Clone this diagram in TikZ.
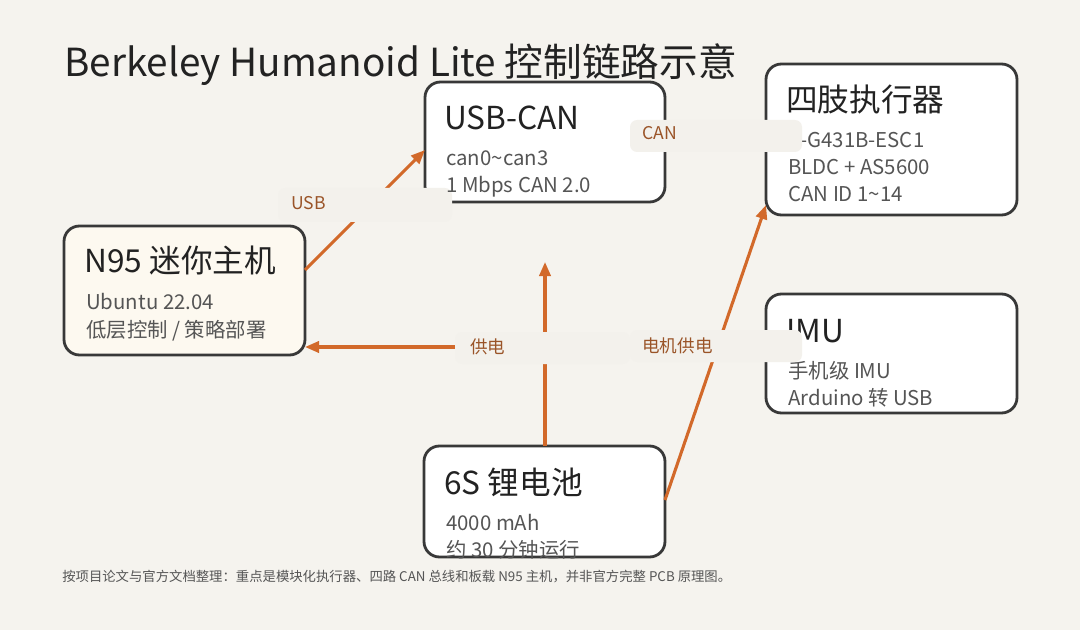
\documentclass[tikz,border=0pt]{standalone}
\usepackage{fontspec}
\setmainfont{Noto Sans CJK SC}
\usetikzlibrary{arrows.meta}
\definecolor{pagebg}{HTML}{F5F3EE}
\definecolor{labelbg}{HTML}{F3F1EC}
\definecolor{wire}{HTML}{D2692A}
\definecolor{labeltxt}{HTML}{9A5428}
\definecolor{ink}{HTML}{222222}
\definecolor{subink}{HTML}{555555}
\definecolor{hostfill}{HTML}{FDF9F0}
\tikzset{
  box/.style={draw=ink!90, line width=2pt, rounded corners=11pt, fill=white},
  head/.style={anchor=base west, inner sep=0pt, text=ink, font=\fontsize{22.5}{26}\selectfont},
  sub/.style={anchor=base west, inner sep=0pt, text=subink, font=\fontsize{14.5}{17}\selectfont},
  wirec/.style={draw=wire, line width=2.2pt, -{Triangle[length=10pt,width=8pt]}},
  tag/.style={fill=labelbg, rounded corners=5pt},
  tagtxt/.style={anchor=base west, inner sep=0pt, text=labeltxt, font=\fontsize{12.5}{14}\selectfont},
}
\begin{document}
\begin{tikzpicture}[x=0.025cm, y=-0.025cm]
  \fill[pagebg] (0,0) rectangle (1080,630);
  \useasboundingbox (0,0) rectangle (1080,630);

  % title
  \node[anchor=base west, inner sep=0pt, text=ink, font=\fontsize{27.5}{30}\selectfont] (title) at (64,77) {Berkeley Humanoid Lite 控制链路示意};

  % boxes
  \draw[box] (425,82) rectangle (665,202);
  \draw[box] (766,64) rectangle (1017,215);
  \draw[box] (766,294) rectangle (1017,413);
  \draw[box, fill=hostfill] (64,226) rectangle (305,355);
  \draw[box] (424,446) rectangle (665,557);

  % connectors
  \coordinate (hostR) at (305,270);
  \coordinate (canL) at (425,150);
  \coordinate (canR) at (665,140);
  \coordinate (limbL) at (766,140);
  \coordinate (batT) at (545,446);
  \coordinate (batUp) at (545,262);
  \coordinate (split) at (545,347);
  \coordinate (hostB) at (305,347);
  \coordinate (batR) at (665,500);
  \coordinate (limbB) at (766,205);
  \draw[wirec] (hostR) -- (canL);
  \draw[wirec] (canR) -- (limbL);
  \draw[wirec] (batT) -- (batUp);
  \draw[wirec] (split) -- (hostB);
  \draw[wirec] (batR) -- (limbB);

  % tags
  \fill[tag] (278,188) rectangle (452,222);
  \node[tagtxt] (usbtag) at (291,210) {USB};
  \fill[tag] (455,332) rectangle (630,364);
  \node[tagtxt] (pwrtag) at (470,353) {供电};

  % box texts
  \node[head] (canhead) at (444,130) {USB-CAN};
  \node[sub] at (446,166) {can0\textasciitilde can3};
  \node[sub] at (446,193) {1 Mbps CAN 2.0};
  \node[head] (limbhead) at (786,112) {四肢执行器};
  \node[sub] at (800,148) {-G431B-ESC1};
  \node[sub] at (788,175) {BLDC + AS5600};
  \node[sub] at (788,202) {CAN ID 1\textasciitilde 14};
  \node[head] (imuhead) at (786,342) {IMU};
  \node[sub] at (788,378) {手机级 IMU};
  \node[sub] at (788,405) {Arduino 转 USB};
  \node[head] (hosthead) at (84,273) {N95 迷你主机};
  \node[sub] at (86,310) {Ubuntu 22.04};
  \node[sub] at (86,337) {低层控制 / 策略部署};
  \node[head] (bathead) at (444,494) {6S 锂电池};
  \node[sub] at (446,530) {4000 mAh};
  \node[sub] at (446,557) {约 30 分钟运行};

  \fill[tag] (630,330) rectangle (802,362);
  \node[tagtxt] (motortag) at (642,352) {电机供电};
  \fill[tag] (630,120) rectangle (802,152);
  \node[tagtxt] (cantag) at (642,140) {CAN};

  % footer
  \node[anchor=base west, inner sep=0pt, text=subink, font=\fontsize{9.5}{11}\selectfont] (note) at (62,581) {按项目论文与官方文档整理：重点是模块化执行器、四路 CAN 总线和板载 N95 主机，并非官方完整 PCB 原理图。};
\end{tikzpicture}
\end{document}
